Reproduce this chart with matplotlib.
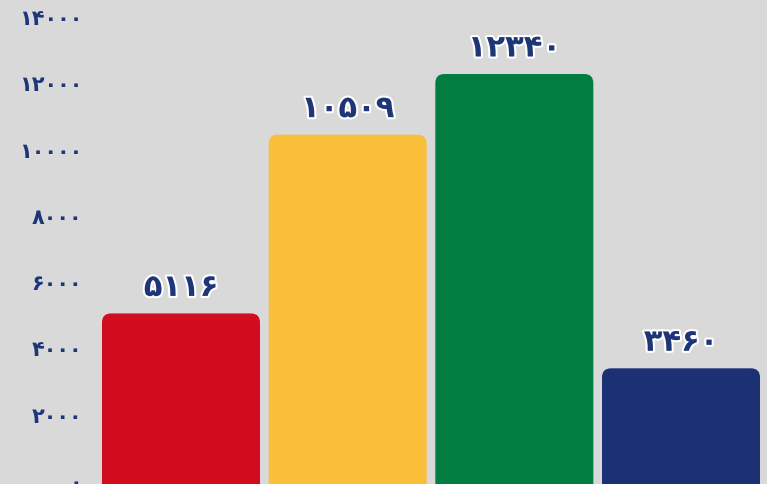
import numpy as np
import matplotlib.pyplot as plt
from matplotlib.patches import FancyBboxPatch
import matplotlib.patheffects as pe

categories = ['a', 'b', 'c', 'd']
values = [5116, 10509, 12340, 3460]
colors = ['#d20c1f', '#f9bf3b', '#027d42', '#1b3174']
yticks = [0, 2000, 4000, 6000, 8000, 10000, 12000, 14000]

fa_digits = str.maketrans('0123456789', '۰۱۲۳۴۵۶۷۸۹')


def fa(n):
    return str(n).translate(fa_digits)


bg = '#d9d9d9'
txt = '#1e3578'

fig = plt.figure(figsize=(7.67, 4.84), dpi=100)
fig.patch.set_facecolor(bg)
ax = fig.add_axes([0, 0, 1, 1])
ax.set_facecolor(bg)

x = np.arange(len(values))
ax.set_xlim(-1.086, 3.516)
ax.set_ylim(-30, 14573)

bars = ax.bar(x, values, width=0.948, color='none')
# px -> data units
xu = (3.516 + 1.086) / 767
yu = (14573 + 30) / 484
r = 9 * xu
for b, c in zip(bars, colors):
    b.set_visible(False)
    p = FancyBboxPatch((b.get_x(), -600), b.get_width(), b.get_height() + 600,
                       boxstyle='round,pad=0,rounding_size=%f' % r,
                       mutation_aspect=yu / xu, facecolor=c, edgecolor='none')
    ax.add_patch(p)
    ax.text(b.get_x() + b.get_width() / 2, b.get_height() + 26 * yu, fa(int(b.get_height())),
            ha='center', va='center', fontsize=22, fontweight='bold', color=txt,
            family='DejaVu Sans',
            path_effects=[pe.withStroke(linewidth=3, foreground='white')])

for t in yticks:
    ax.text(-1.086 + 82 * xu, t, fa(t), ha='right', va='center', fontsize=15,
            fontweight='bold', color=txt, family='DejaVu Sans')

ax.axis('off')
fig.savefig('out.png', dpi=100, facecolor=bg)
